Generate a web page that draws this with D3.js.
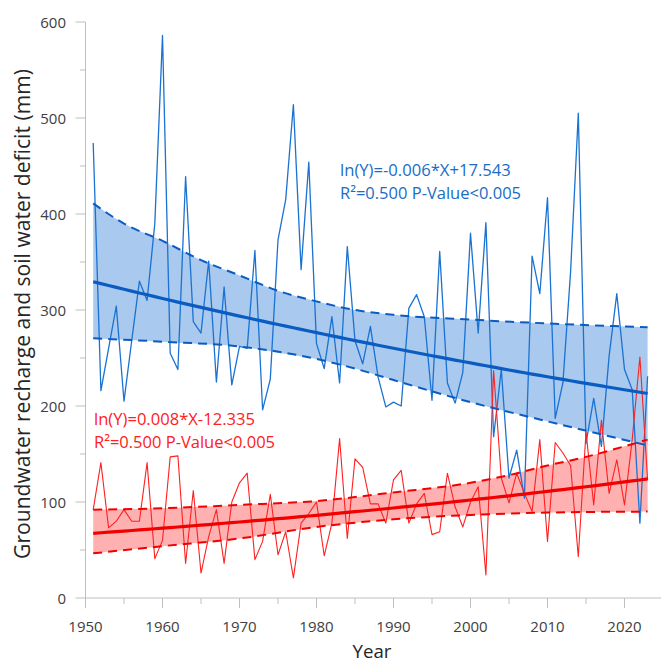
<!DOCTYPE html>
<html><head><meta charset="utf-8">
<script src="https://cdn.jsdelivr.net/npm/d3@7"></script>
<style>
html,body{margin:0;padding:0;background:#fff;}
svg{display:block;}
text{font-family:"Open Sans",sans-serif;}
</style></head>
<body><svg id="c" width="661" height="664"></svg>
<script>
// ---------- data ----------
const years = d3.range(1951, 2024);
const recharge = [474,216,260,304,205,268,330,310,390,586,255,238,439,288,276,351,225,324,222,262,
  260,362,196,228,373,415,514,342,454,265,239,293,224,366,268,244,283,230,199,204,
  200,302,316,293,206,361,224,203,235,380,276,391,168,238,125,154,104,356,317,417,
  187,224,340,505,161,208,158,252,317,238,217,78,231];
const deficit = [92,141,73,80,92,80,80,141,41,60,147,148,36,112,26,64,92,36,100,120,
  130,40,59,108,45,69,21,78,88,100,44,78,166,62,145,136,98,98,78,123,
  133,78,98,109,66,69,130,95,74,100,116,24,237,125,99,130,109,90,165,59,
  162,151,138,43,173,97,185,109,144,97,165,251,123];
// confidence bands
const blueBandYears = [1951,1955,1960,1965,1970,1975,1980,1985,1990,2000,2010,2023];
const blueUpper     = [411, 390, 372, 352, 336, 320, 309, 300, 295, 290, 286, 282];
const blueLowYears  = [1951,1960,1970,1980,1985,1990,2000,2010,2023];
const blueLower     = [270.5,267,262,249,239,227,204,184,159];
const redUpYears    = [1951,1960,1970,1980,1990,2000,2005,2010,2015,2020,2023];
const redUpper      = [92, 93.5, 97, 101, 110, 120, 128, 138, 147, 158, 165];
const redLowYears   = [1951,1960,1970,1980,1990,2000,2010,2023];
const redLower      = [46.5,54,62,74,82,86.5,89,90];
// fitted exponential trend end values (1951, 2023)
const blueTrendEnds = [329.5, 213];
const redTrendEnds  = [67.4, 124];
const xTicks = [1950,1960,1970,1980,1990,2000,2010,2020];
const yTicks = [0,100,200,300,400,500,600];
const blueLabel = ["ln(Y)=-0.006*X+17.543", "R²=0.500 P-Value<0.005"];
const redLabel  = ["ln(Y)=0.008*X-12.335", "R²=0.500 P-Value<0.005"];

// ---------- layout ----------
const svg = d3.select("#c");
const x = d3.scaleLinear().domain([1950, 2025]).range([85.5, 663]);
const y = d3.scaleLinear().domain([0, 600]).range([598, 22]);
const axisCol = "#bfbfbf", tickTxt = "#404040";
const labFont = "Lato, 'Open Sans', sans-serif";

const C = {
  bLine:"#1a72d2", bTrend:"#0a5cc2", bFill:"#a9c9ee", bText:"#1a6cc8",
  rLine:"#ff2020", rTrend:"#f20000", rFill:"#ffb1b1", rText:"#ff2020"
};

function trend(ends){
  const k = Math.log(ends[1]/ends[0])/(2023-1951);
  return years.map(yr => [yr, ends[0]*Math.exp(k*(yr-1951))]);
}
const zipXY = (xs, vs) => xs.map((d,i)=>[d, vs[i]]);

const area = d3.area().curve(d3.curveMonotoneX)
  .x(d=>x(d[0])).y0(d=>y(d[1])).y1(d=>y(d[2]));
const line = d3.line().x(d=>x(d[0])).y(d=>y(d[1]));
const smooth = d3.line().curve(d3.curveMonotoneX).x(d=>x(d[0])).y(d=>y(d[1]));

function bandRows(upY, up, loY, lo){
  const fu = d3.scaleLinear().domain(upY).range(up);
  const fl = d3.scaleLinear().domain(loY).range(lo);
  const ks = Array.from(new Set(upY.concat(loY))).sort((a,b)=>a-b);
  return ks.map(k=>[k, fl(k), fu(k)]);
}

// fit a text element's width to a target by scaling its font size
function fit(sel, target){
  const n = sel.node(); const w = n.getComputedTextLength();
  const fs = parseFloat(sel.attr("font-size"));
  if (w > 0) sel.attr("font-size", (fs*target/w).toFixed(2));
  return sel;
}

// fills
svg.append("path").datum(bandRows(blueBandYears, blueUpper, blueLowYears, blueLower))
  .attr("d", area).attr("fill", C.bFill);
svg.append("path").datum(bandRows(redUpYears, redUpper, redLowYears, redLower))
  .attr("d", area).attr("fill", C.rFill);

// axes
const gx = svg.append("g").attr("transform","translate(0,598)");
gx.append("line").attr("x1",85.5).attr("x2",661).attr("stroke",axisCol);
const gy = svg.append("g");
gy.append("line").attr("x1",85.5).attr("x2",85.5).attr("y1",y(0)).attr("y2",y(600)).attr("stroke",axisCol);
d3.range(1950, 2025, 5).forEach(t=>{
  const major = t % 10 === 0;
  gx.append("line").attr("x1",x(t)).attr("x2",x(t)).attr("y1",0).attr("y2",major?10:6).attr("stroke",axisCol);
});
xTicks.forEach(t=>{
  gx.append("text").attr("x",x(t)).attr("y",34).attr("text-anchor","middle")
    .attr("font-size",15).attr("fill",tickTxt).text(t);
});
d3.range(0, 601, 50).forEach(t=>{
  const major = t % 100 === 0;
  gy.append("line").attr("x1",85.5).attr("x2",major?75.5:80).attr("y1",y(t)).attr("y2",y(t)).attr("stroke",axisCol);
});
yTicks.forEach(t=>{
  gy.append("text").attr("x",66).attr("y",y(t)+5.5).attr("text-anchor","end")
    .attr("font-size",15).attr("fill",tickTxt).text(t);
});
fit(svg.append("text").attr("x",372).attr("y",658).attr("text-anchor","middle")
  .attr("font-size",17).attr("font-family",labFont).attr("fill","#262626").text("Year"), 39);
fit(svg.append("text").attr("transform","translate(30,314) rotate(-90)").attr("text-anchor","middle")
  .attr("font-size",17).attr("font-family",labFont).attr("fill","#262626")
  .text("Groundwater recharge and soil water deficit (mm)"), 490);

// series
svg.append("path").datum(zipXY(years, recharge)).attr("d", line)
  .attr("fill","none").attr("stroke",C.bLine).attr("stroke-width",1.3).attr("stroke-linejoin","round");
svg.append("path").datum(zipXY(years, deficit)).attr("d", line)
  .attr("fill","none").attr("stroke",C.rLine).attr("stroke-width",1.1).attr("stroke-linejoin","round");

// band dashed edges
function dashed(xs, vs, col){
  svg.append("path").datum(zipXY(xs, vs)).attr("d", smooth)
    .attr("fill","none").attr("stroke",col).attr("stroke-width",2).attr("stroke-dasharray","9,6");
}
dashed(blueBandYears, blueUpper, C.bTrend);
dashed(blueLowYears, blueLower, C.bTrend);
dashed(redUpYears, redUpper, C.rTrend);
dashed(redLowYears, redLower, C.rTrend);

// trends
svg.append("path").datum(trend(blueTrendEnds)).attr("d", line)
  .attr("fill","none").attr("stroke",C.bTrend).attr("stroke-width",3.2);
svg.append("path").datum(trend(redTrendEnds)).attr("d", line)
  .attr("fill","none").attr("stroke",C.rTrend).attr("stroke-width",3.2);

// annotations
function label(lines, widths, x0, y0, col){
  lines.forEach((s,i)=>{
    fit(svg.append("text").attr("x",x0).attr("y",y0+i*22.5).attr("font-size",16)
      .attr("font-family",labFont).attr("fill",col).text(s), widths[i]);
  });
}
label(blueLabel, [171,181], 340, 176, C.bText);
label(redLabel, [161,181], 94, 425, C.rText);
</script>
</body></html>
